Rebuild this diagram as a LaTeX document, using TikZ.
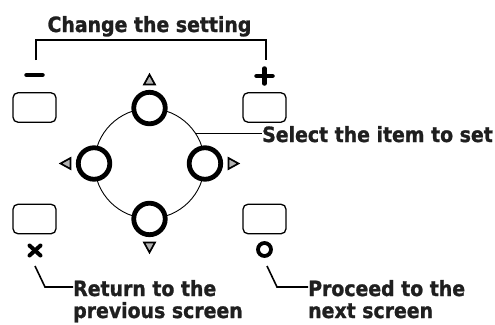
\documentclass[tikz,border=0pt]{standalone}
\usepackage{fontspec}
\setmainfont{DejaVu Sans Condensed}[BoldFeatures={FakeBold=1.2}]
\usetikzlibrary{calc}
\begin{document}
\begin{tikzpicture}[x=1pt,y=-1pt,
  btn/.style={draw, rounded corners=5pt, minimum width=43pt, minimum height=29.5pt, line width=1.3pt, inner sep=0pt},
  knob/.style={circle, draw, fill=white, line width=4.8pt, minimum size=31.5pt, inner sep=0pt},
  lbl/.style={font=\bfseries\fontsize{21}{24}\selectfont, inner sep=0pt, text=black!88},
  lead/.style={line width=1.6pt},
  tri/.style={draw, line width=1.7pt, fill=gray!60, line join=miter},
  sym/.style={line width=4.5pt, line cap=round}
]
\useasboundingbox (0,0) rectangle (495,324);

% ring and knobs
\node[circle, draw, line width=0.9pt, minimum size=110pt, inner sep=0pt] (ring) at (149.5,163.5) {};
\node[knob] (up) at (ring.north) {};
\node[knob] (dn) at (ring.south) {};
\node[knob] (lf) at (ring.west) {};
\node[knob] (rt) at (ring.east) {};

% direction triangles
\draw[tri] ($(up)+(0,-33.5)$) -- ($(up)+(-5.5,-23.5)$) -- ($(up)+(5.5,-23.5)$) -- cycle;
\draw[tri] ($(dn)+(0,33.5)$) -- ($(dn)+(-5.5,23.5)$) -- ($(dn)+(5.5,23.5)$) -- cycle;
\draw[tri] ($(lf)+(-33.5,0)$) -- ($(lf)+(-23.5,-5.5)$) -- ($(lf)+(-23.5,5.5)$) -- cycle;
\draw[tri] ($(rt)+(33.5,0)$) -- ($(rt)+(23.5,-5.5)$) -- ($(rt)+(23.5,5.5)$) -- cycle;

% buttons
\node[btn] (b1) at (34.5,107.5) {};
\node[btn] (b2) at (264.5,107.5) {};
\node[btn] (b3) at (34.5,219) {};
\node[btn] (b4) at (264.5,219) {};

% minus and plus
\coordinate (minus) at (34.5,75);
\coordinate (plus) at (264.5,76);
\draw[sym] ($(minus)+(-8,0)$) -- ($(minus)+(8,0)$);
\draw[sym] ($(plus)+(-8,0)$) -- ($(plus)+(8,0)$);
\draw[sym] ($(plus)+(0,-7.5)$) -- ($(plus)+(0,7.5)$);

% cross and circle marks
\coordinate (cross) at (35,250.5);
\coordinate (okmark) at (264.5,249.5);
\draw[line width=4pt, line cap=round] ($(cross)+(-5.5,-5)$) -- ($(cross)+(5.5,5)$);
\draw[line width=4pt, line cap=round] ($(cross)+(-5.5,5)$) -- ($(cross)+(5.5,-5)$);
\draw[line width=3.8pt] (okmark) circle[radius=6.5];

% labels
\node[lbl, anchor=base] (chg) at (149.5,32) {Change the setting};
\node[lbl, anchor=base west] (sel) at (262,142) {Select the item to set};
\node[lbl, anchor=base west] (ret1) at (73,296) {Return to the};
\node[lbl, anchor=base west] (ret2) at (73,318) {previous screen};
\node[lbl, anchor=base west] (pro1) at (308,296) {Proceed to the};
\node[lbl, anchor=base west] (pro2) at (308,318) {next screen};

% leaders
\coordinate (bl) at (36,60);
\coordinate (br) at (266,60);
\draw[lead] (bl) -- ++(0,-20) -| (br);
\draw[lead] (ring.33) -- (ring.33 -| sel.west);
\coordinate (retA) at (35,266);
\coordinate (proA) at (267,266);
\draw[lead] (retA) -- (45,287) -- (ret1.west |- 0,287);
\draw[lead] (proA) -- (277,287) -- (pro1.west |- 0,287);
\end{tikzpicture}
\end{document}
